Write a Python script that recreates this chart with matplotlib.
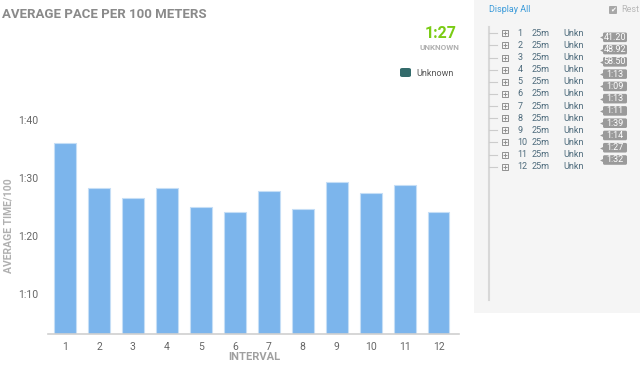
import matplotlib
matplotlib.use("Agg")
import matplotlib.pyplot as plt
from matplotlib.patches import Rectangle, FancyBboxPatch
from matplotlib.ticker import FuncFormatter

# ---- data ----
intervals = [1, 2, 3, 4, 5, 6, 7, 8, 9, 10, 11, 12]
avg_pace_sec = [96.0, 88.2, 86.6, 88.2, 85.0, 84.1, 87.8, 84.6, 89.2, 87.4, 88.8, 84.1]
y_ticks_sec = [70, 80, 90, 100]
summary_value = "1:27"
summary_label = "UNKNOWN"
legend_label = "Unknown"
row_distance = ["25m"] * 12
row_stroke = ["Unkn"] * 12
rest_times = ["41.20", "48.92", "58.50", "1:13", "1:09", "1:13", "1:11", "1:39", "1:14", "1:27", "1:32"]

W, H = 640, 366
fig = plt.figure(figsize=(W / 100, H / 100), dpi=100)
plt.rcParams['font.family'] = ['Roboto', 'DejaVu Sans']


def P(x, y):
    return x / W, 1 - y / H


# right panel background (behind everything)
fig.patches.append(Rectangle(P(474, 313), (W - 474) / W, 313 / H, transform=fig.transFigure,
                             facecolor="#f5f5f5", edgecolor="none", zorder=-5))

# main axes
left, right, top, bottom = 48, 459, 120, 334
ax = fig.add_axes([left / W, 1 - bottom / H, (right - left) / W, (bottom - top) / H])
ax.patch.set_alpha(0)
ax.bar(intervals, avg_pace_sec, width=0.64, color="#7cb5ec", edgecolor="#c5def6", linewidth=0.8, zorder=2)
ax.set_ylim(63, 100)
ax.set_xlim(0.5, 12.6)
ax.set_yticks(y_ticks_sec)
ax.yaxis.set_major_formatter(FuncFormatter(lambda v, p: f"{int(v)//60}:{int(v)%60:02d}"))
ax.set_xticks(intervals)
for s in ["top", "right", "left"]:
    ax.spines[s].set_visible(False)
ax.spines["bottom"].set_color("#d0d0d0")
ax.spines["bottom"].set_linewidth(1.2)
ax.tick_params(axis="both", length=0, labelsize=7.5, labelcolor="#666666")
ax.tick_params(axis="y", pad=7)
ax.tick_params(axis="x", pad=6)
fig.text(*P(254, 357), "INTERVAL", ha="center", va="center", fontsize=8, fontweight="bold", color="#a0a0a0")
fig.text(*P(9, 226), "AVERAGE TIME/100", rotation=90, ha="center", va="center",
         fontsize=7.5, fontweight="bold", color="#b0b0b0")

# title
fig.text(*P(2, 15), "AVERAGE PACE PER 100 METERS", ha="left", va="center",
         fontsize=9.5, fontweight="bold", color="#8a8a8a")

# summary
fig.text(*P(457, 33), summary_value, ha="right", va="center", fontsize=11.5,
         fontweight="bold", color="#7acc14")
fig.text(*P(459, 47), summary_label, ha="right", va="center", fontsize=5.8,
         fontweight="bold", color="#b0b0b0")

# legend
fig.patches.append(FancyBboxPatch(P(400, 77), 11 / W, 9 / H, boxstyle="round,pad=0,rounding_size=0.004",
                                  transform=fig.transFigure, facecolor="#336b6b", edgecolor="none"))
fig.text(*P(416, 73), legend_label, ha="left", va="center", fontsize=6.5, color="#555555")

# right panel content
fig.text(*P(489, 10), "Display All", ha="left", va="center", fontsize=6.5, color="#3a9ad9")
fig.patches.append(FancyBboxPatch(P(609, 14), 8 / W, 8 / H, boxstyle="round,pad=0,rounding_size=0.002",
                                  transform=fig.transFigure, facecolor="#a8a8a8", edgecolor="none"))
fig.text(*P(613, 10), "\u2714", ha="center", va="center", fontsize=5, color="white", family="DejaVu Sans")
fig.text(*P(621, 10), "Rest", ha="left", va="center", fontsize=6.5, color="#b8b8b8")

ov = fig.add_axes([0, 0, 1, 1], facecolor="none")
ov.set_xlim(0, W)
ov.set_ylim(H, 0)
ov.axis("off")
ov.plot([488.5, 488.5], [27, 300], color="#d8d8d8", lw=1.5)

row_y0, row_dy = 33.3, 12.12
for i, num in enumerate(intervals):
    y = row_y0 + i * row_dy
    ov.plot([489, 497], [y, y], color="#cccccc", lw=0.8)
    ov.plot(504.5, y, marker="s", ms=5, mfc="none", mec="#909090", mew=0.7)
    ov.plot(504.5, y, marker="+", ms=3.5, mec="#909090", mew=0.7)
    ov.text(517.5, y, str(num), ha="left", va="center", fontsize=6.5, color="#4e6b7c")
    ov.text(532, y, row_distance[i], ha="left", va="center", fontsize=6.5, color="#4e6b7c")
    ov.text(563, y, row_stroke[i], ha="left", va="center", fontsize=6.5, color="#4e6b7c")

badge_y0, badge_dy = 37.3, 12.27
for i, r in enumerate(rest_times):
    y = badge_y0 + i * badge_dy
    ov.add_patch(FancyBboxPatch((603, y - 4.8), 24, 9.6, boxstyle="round,pad=0,rounding_size=1.5",
                                facecolor="#9a9a9a", edgecolor="none"))
    ov.plot(602.2, y, marker="<", ms=3.5, color="#9a9a9a", mec="none")
    ov.text(615, y, r, ha="center", va="center", fontsize=6.5, color="white")

fig.savefig("out.png", dpi=100)
